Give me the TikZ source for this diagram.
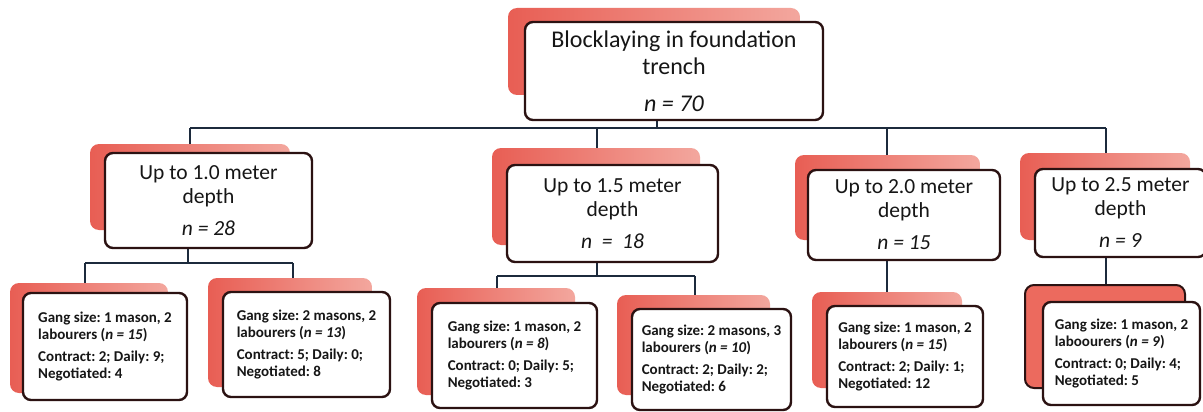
\documentclass[tikz,border=0pt]{standalone}
\usepackage{fontspec}
\setmainfont{Carlito}
\frenchspacing
\pgfdeclarelayer{back}
\pgfsetlayers{back,main}
\definecolor{linec}{HTML}{1C2A3C}
\definecolor{edgec}{HTML}{2B1212}
\definecolor{shA}{HTML}{E85E54}
\definecolor{shB}{HTML}{F3A79E}
\definecolor{shF}{HTML}{EC6A5E}
\definecolor{txt}{HTML}{161616}
\tikzset{
  conn/.style={draw=linec, line width=2.8pt},
  shadowbox/.style={left color=shA, right color=shB, rounded corners=9pt},
  whitebox/.style={draw=edgec, fill=white, line width=2.4pt, rounded corners=8pt,
    inner sep=0pt, text=txt, align=center},
  topbox/.style={whitebox, font=\fontsize{24}{27}\selectfont},
  midbox/.style={whitebox, font=\fontsize{21.5}{24}\selectfont},
  leafbox/.style={whitebox, align=left, font=\bfseries\fontsize{15}{17}\selectfont},
}
\begin{document}
\begin{tikzpicture}[x=1pt,y=-1pt]
\useasboundingbox (0,0) rectangle (1203,412);

% shadows
\path[shadowbox] (508,8) rectangle (800,95);
\path[shadowbox] (90,144) rectangle (290,230);
\path[shadowbox] (492,148) rectangle (700,245);
\path[shadowbox] (795,155) rectangle (980,240);
\path[shadowbox] (1020,153) rectangle (1190,240);
\path[shadowbox] (10,283) rectangle (168,393);
\path[shadowbox] (208,278) rectangle (372,387);
\path[shadowbox] (417,288) rectangle (575,395);
\path[shadowbox] (617,295) rectangle (770,395);
\path[shadowbox] (812,292) rectangle (962,388);
\path[draw=edgec, line width=2pt, fill=shF, rounded corners=9pt] (1025,285) rectangle (1185,388);

% boxes
\node[topbox, minimum width=298pt, minimum height=98pt] (top) at (674,71)
  {Blocklaying in foundation\\trench\\[10pt]\textit{n = 70}};
\node[midbox, minimum width=207pt, minimum height=95pt] (L1) at (208.5,200.5)
  {Up to 1.0 meter\\depth\\[8pt]\textit{n = 28}};
\node[midbox, minimum width=211pt, minimum height=97pt] (L2) at (612.5,213.5)
  {Up to 1.5 meter\\depth\\[8pt]\textit{n \ = \ 18}};
\node[midbox, minimum width=192pt, minimum height=90pt] (L3) at (904,215)
  {Up to 2.0 meter\\depth\\[8pt]\textit{n = 15}};
\node[midbox, minimum width=171pt, minimum height=88pt] (L4) at (1120.5,213)
  {Up to 2.5 meter\\depth\\[8pt]\textit{n = 9}};

\node[leafbox, minimum width=164pt, minimum height=107pt] (a) at (105,346.5)
  {Gang size: 1 mason, 2\\labourers (\textit{n = 15})\\[5pt]Contract: 2; Daily: 9;\\Negotiated: 4};
\node[leafbox, minimum width=167pt, minimum height=105pt] (b) at (306.5,344.5)
  {Gang size: 2 masons, 2\\labourers (\textit{n = 13})\\[5pt]Contract: 5; Daily: 0;\\Negotiated: 8};
\node[leafbox, minimum width=165pt, minimum height=105pt] (c) at (514.5,355.5)
  {Gang size: 1 mason, 2\\labourers (\textit{n = 8})\\[5pt]Contract: 0; Daily: 5;\\Negotiated: 3};
\node[leafbox, minimum width=159pt, minimum height=101pt] (d) at (711.5,359.5)
  {Gang size: 2 masons, 3\\labourers (\textit{n = 10})\\[5pt]Contract: 2; Daily: 2;\\Negotiated: 6};
\node[leafbox, minimum width=156pt, minimum height=101pt] (e) at (905,356.5)
  {Gang size: 1 mason, 2\\labourers (\textit{n = 15})\\[5pt]Contract: 2; Daily: 1;\\Negotiated: 12};
\node[leafbox, minimum width=157pt, minimum height=103pt] (f) at (1121.5,353.5)
  {Gang size: 1 mason, 2\\laboourers (\textit{n = 9})\\[5pt]Contract: 0; Daily: 4;\\Negotiated: 5};

% connectors (behind everything)
\begin{pgfonlayer}{back}
\fill[white] (0,0) rectangle (1203,412);
\coordinate (busL) at (190,128);
\coordinate (busR) at (1106,128);
\coordinate (dt) at (657,128);
\coordinate (d2) at (597,128);
\coordinate (d3) at (887,128);
\draw[conn] (dt |- top.south) -- (dt);
\draw[conn] (busL) -- (busR);
\draw[conn] (busL) -- (busL |- L1.north);
\draw[conn] (d2) -- (d2 |- L2.north);
\draw[conn] (d3) -- (d3 |- L3.north);
\draw[conn] (busR) -- (busR |- L4.north);

\coordinate (s1) at (188,263);
\coordinate (s1a) at (85,263);
\coordinate (s1b) at (293,263);
\draw[conn] (s1 |- L1.south) -- (s1);
\draw[conn] (s1a) -- (s1b);
\draw[conn] (s1a) -- (s1a |- a.north);
\draw[conn] (s1b) -- (s1b |- b.north);

\coordinate (s2) at (597,276);
\coordinate (s2a) at (497,276);
\coordinate (s2b) at (695,276);
\draw[conn] (s2 |- L2.south) -- (s2);
\draw[conn] (s2a) -- (s2b);
\draw[conn] (s2a) -- (s2a |- c.north);
\draw[conn] (s2b) -- (s2b |- d.north);

\draw[conn] (d3 |- L3.south) -- (d3 |- e.north);
\draw[conn] (busR |- L4.south) -- (busR |- f.north);
\end{pgfonlayer}
\end{tikzpicture}
\end{document}
